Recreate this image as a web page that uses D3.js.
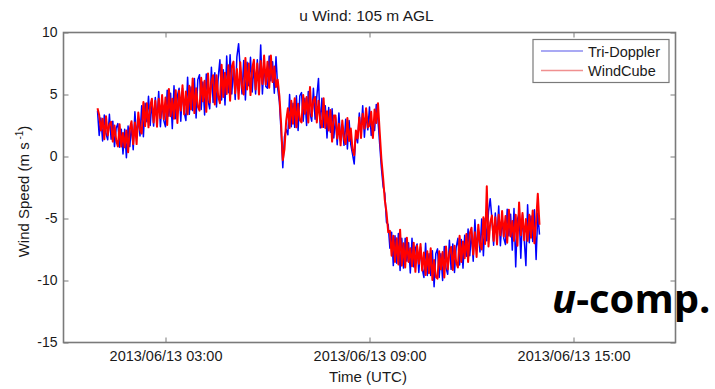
<!DOCTYPE html>
<html>
<head>
<meta charset="utf-8">
<script src="https://cdn.jsdelivr.net/npm/d3@7"></script>
<style>
  html, body { margin: 0; padding: 0; background: #ffffff; }
  svg { display: block; }
  text { font-family: "Liberation Sans", Arial, Helvetica, sans-serif; fill: #1a1a1a; }
</style>
</head>
<body>
<svg id="chart" width="715" height="389"></svg>
<script>
// ---------------- data ----------------
const titleText = "u Wind: 105 m AGL";
const seriesNames = ["Tri-Doppler", "WindCube"];
const seriesColors = ["#0000ff", "#ff0000"];
const legendColors = ["#8c8cf0", "#f09090"];
const xDomainISO = ["2013-06-13T00:00:00Z", "2013-06-13T18:00:00Z"];
const xTickISO = ["2013-06-13T03:00:00Z", "2013-06-13T09:00:00Z", "2013-06-13T15:00:00Z"];
const yTicks = [10, 5, 0, -5, -10, -15];
const sampleStartISO = "2013-06-13T01:00:00Z";
const sampleStepMinutes = 3;

// Tri-Doppler u (m/s), one row per hour from 01:00 UTC (3-min samples)
const triDoppler = [
  3.7, 1.7, 3.1, 1.25, 3.35, 1.85, 1.35, 3.4, 1.4, 2.85, 0.8, 2.3, 2.65, 0.75, 2.2, 0.2, 2.2, -0.1, 2.45, 0.8,
  2.6, 0.55, 3.6, 1.55, 3.1, 1.65, 4.1, 1.6, 4.3, 2.8, 4.85, 2.5, 4.35, 2.45, 4.75, 2.8, 5.25, 2.4, 4.4, 2.9,
  2.4, 5.35, 3.25, 5.1, 2.25, 5.7, 3.05, 4.9, 5.5, 2.85, 5.5, 3.55, 2.9, 6.4, 3.4, 5.6, 3.7, 6.3, 3.1, 6.2,
  6.6, 3.8, 6.0, 3.35, 6.65, 4.55, 3.85, 7.2, 4.35, 6.75, 4.0, 6.35, 7.8, 4.55, 7.0, 4.15, 8.1, 5.15, 8.2, 5.05,
  7.3, 4.6, 8.05, 9.1, 7.0, 5.05, 7.75, 4.55, 7.6, 5.7, 8.0, 5.2, 7.4, 5.05, 7.8, 5.5, 9.0, 5.05, 7.4, 5.65,
  5.5, 8.1, 6.1, 7.65, 5.1, 8.05, 5.5, 4.4, 2.0, -0.9, 1.6, 2.2, 1.75, 5.0, 2.4, 4.3, 2.35, 4.9, 2.1, 4.9,
  5.15, 2.85, 4.7, 2.5, 5.25, 3.5, 2.85, 5.5, 3.0, 4.85, 6.3, 2.3, 4.7, 2.35, 4.1, 1.5, 3.95, 1.95, 3.85, 1.5,
  3.15, 0.95, 3.5, 1.3, 2.55, 0.9, 3.0, 0.6, 2.9, 0.95, 0.2, -0.6, 1.9, 1.1, 3.5, 1.75, 4.1, 1.55, 3.45, 2.15,
  4.0, 1.7, 2.6, 2.1, 4.2, 2.9, 1.0, -0.9, -2.4, -3.0, -5.3, -5.5, -7.4, -6.1, -8.8, -6.4, -8.6, -6.2, -9.2, -6.6,
  -9.0, -6.6, -8.45, -6.95, -9.4, -6.6, -8.9, -7.4, -7.05, -9.35, -7.3, -9.05, -9.75, -7.0, -9.6, -7.85, -9.6, -7.6, -10.5, -7.85,
  -7.45, -9.75, -7.85, -10.0, -7.25, -9.0, -9.5, -6.75, -9.1, -7.05, -9.35, -7.3, -6.6, -8.75, -6.7, -9.0, -6.35, -8.05, -5.85, -8.0,
  -6.0, -8.45, -5.1, -7.55, -5.9, -7.7, -5.05, -8.0, -5.0, -6.8, -4.45, -3.4, -5.0, -7.15, -4.55, -6.7, -4.0, -7.2, -4.95, -6.6,
  -7.1, -4.25, -6.4, -4.65, -7.55, -4.2, -8.9, -5.1, -4.55, -8.2, -4.7, -6.65, -8.8, -3.9, -6.95, -4.8, -6.85, -4.3, -8.3, -4.55,
  -6.3
];

// WindCube u (m/s), one row per hour from 01:00 UTC (3-min samples)
const windCube = [
  3.9, 3.35, 2.1, 3.05, 1.4, 3.25, 1.7, 2.6, 2.8, 1.2, 2.5, 1.3, 0.8, 2.6, 0.8, 1.9, 0.75, 2.1, 0.35, 2.2,
  2.85, 1.0, 2.75, 1.0, 3.55, 2.2, 1.85, 4.4, 2.45, 4.3, 2.35, 4.05, 4.65, 2.75, 4.5, 2.4, 4.65, 3.1, 4.95, 3.0,
  4.75, 2.55, 5.45, 3.25, 4.65, 3.05, 5.35, 2.7, 5.3, 3.7, 5.75, 3.4, 5.25, 3.4, 5.7, 3.8, 6.3, 3.5, 5.5, 4.05,
  3.7, 6.35, 4.45, 6.1, 3.6, 6.7, 4.35, 6.05, 6.55, 4.2, 6.55, 4.85, 4.3, 7.4, 4.8, 6.75, 5.05, 7.35, 4.5, 7.25,
  7.65, 5.1, 7.05, 4.65, 7.6, 5.65, 5.0, 7.95, 5.4, 7.5, 4.95, 7.1, 7.8, 5.4, 7.5, 5.0, 7.7, 5.85, 8.15, 5.8,
  7.65, 5.55, 8.15, 6.0, 7.25, 5.6, 6.2, 4.9, 2.7, -0.3, 0.6, 2.9, 3.9, 2.3, 4.5, 2.65, 4.7, 2.35, 4.25, 2.95,
  2.75, 4.95, 3.45, 4.8, 2.75, 5.6, 3.25, 4.5, 4.8, 2.75, 4.5, 2.95, 2.35, 4.7, 2.3, 3.65, 2.1, 3.75, 1.2, 3.3,
  3.3, 1.45, 2.65, 0.9, 2.9, 1.45, 1.0, 3.1, 1.25, 2.25, 0.6, 0.1, 2.1, 1.45, 3.15, 1.5, 3.45, 2.25, 3.9, 2.35,
  2.5, 3.6, 1.5, 3.8, 2.7, 4.3, 2.0, -0.2, -1.7, -3.5, -4.5, -6.1, -6.0, -8.0, -6.4, -8.5, -6.6, -8.7, -5.9, -8.8,
  -7.0, -8.95, -6.55, -8.5, -7.4, -8.85, -6.95, -9.3, -7.2, -8.65, -7.05, -9.2, -7.75, -9.55, -7.65, -9.4, -7.4, -9.95, -8.35, -9.7,
  -9.85, -7.65, -9.1, -7.7, -9.75, -7.25, -9.1, -7.75, -7.3, -9.15, -7.2, -8.55, -8.95, -6.4, -8.5, -6.85, -8.2, -6.25, -8.5, -6.2,
  -5.75, -7.9, -6.1, -8.1, -5.5, -7.05, -7.5, -4.9, -7.05, -2.4, -7.25, -5.35, -4.75, -6.8, -4.9, -7.1, -4.7, -6.35, -4.4, -6.45,
  -4.8, -6.95, -4.3, -6.45, -5.2, -6.8, -4.7, -7.2, -3.7, -6.35, -4.55, -6.75, -5.05, -6.8, -4.7, -6.55, -4.35, -7.0, -5.25, -3.0,
  -5.5
];

// ---------------- drawing ----------------
const svg = d3.select("#chart");
const plot = { left: 63.5, right: 675.5, top: 32.5, bottom: 342.5 };

const x = d3.scaleUtc()
  .domain(xDomainISO.map(s => new Date(s)))
  .range([plot.left, plot.right]);
const y = d3.scaleLinear()
  .domain([-15, 10])
  .range([plot.bottom, plot.top]);

const t0 = new Date(sampleStartISO).getTime();
const timeAt = i => new Date(t0 + i * sampleStepMinutes * 60000);

// series lines
const line = d3.line()
  .x((d, i) => x(timeAt(i)))
  .y(d => y(d));

const strokeWidths = [1.5, 2.0];
[triDoppler, windCube].forEach((vals, si) => {
  svg.append("path")
    .datum(vals)
    .attr("fill", "none")
    .attr("stroke", seriesColors[si])
    .attr("stroke-width", strokeWidths[si])
    .attr("stroke-linejoin", "round")
    .attr("d", line);
});

// axes (MATLAB-like box with inward ticks)
const axisColor = "#7a7a7a";
const xTicks = xTickISO.map(s => new Date(s));
const fmt = d3.utcFormat("%Y/%m/%d %H:%M");

function styleAxis(g) {
  g.select(".domain").remove();
  g.selectAll(".tick line").attr("stroke", axisColor).attr("stroke-width", 1);
  g.selectAll(".tick text").attr("fill", "#1a1a1a");
}

svg.append("g")
  .attr("transform", `translate(0,${plot.bottom})`)
  .call(d3.axisBottom(x).tickValues(xTicks).tickFormat(fmt).tickSize(-5).tickPadding(8))
  .call(styleAxis)
  .selectAll("text")
  .style("font-family", "Liberation Sans, Arial, sans-serif")
  .style("font-size", "14.5px");

svg.append("g")
  .attr("transform", `translate(0,${plot.top})`)
  .call(d3.axisTop(x).tickValues(xTicks).tickFormat("").tickSize(-5))
  .call(styleAxis);

svg.append("g")
  .attr("transform", `translate(${plot.left},0)`)
  .call(d3.axisLeft(y).tickValues(yTicks).tickFormat(d => String(d)).tickSize(-5).tickPadding(6))
  .call(styleAxis)
  .selectAll("text")
  .style("font-family", "Liberation Sans, Arial, sans-serif")
  .style("font-size", "14px");

svg.append("g")
  .attr("transform", `translate(${plot.right},0)`)
  .call(d3.axisRight(y).tickValues(yTicks).tickFormat("").tickSize(-5))
  .call(styleAxis);

svg.append("rect")
  .attr("x", plot.left).attr("y", plot.top)
  .attr("width", plot.right - plot.left).attr("height", plot.bottom - plot.top)
  .attr("fill", "none").attr("stroke", axisColor).attr("stroke-width", 1.6);

// title
svg.append("text")
  .attr("x", (plot.left + plot.right) / 2 - 3).attr("y", 20.5)
  .attr("text-anchor", "middle")
  .style("font-size", "15.5px")
  .text(titleText);

// x label
svg.append("text")
  .attr("x", 368).attr("y", 382)
  .attr("text-anchor", "middle")
  .style("font-size", "15px")
  .text("Time (UTC)");

// y label
const yl = svg.append("text")
  .attr("transform", `translate(29,${(plot.top + plot.bottom) / 2 + 4}) rotate(-90)`)
  .attr("text-anchor", "middle")
  .style("font-size", "15px");
yl.append("tspan").text("Wind Speed (m s");
yl.append("tspan").attr("dy", -6).style("font-size", "10px").text(" -1");
yl.append("tspan").attr("dy", 6).text(")");

// legend
const lg = svg.append("g");
lg.append("rect")
  .attr("x", 533).attr("y", 39.5).attr("width", 136).attr("height", 43)
  .attr("fill", "#ffffff").attr("stroke", axisColor).attr("stroke-width", 1.2);
seriesNames.forEach((name, i) => {
  const ly = 51 + i * 19.5;
  lg.append("line")
    .attr("x1", 541).attr("x2", 583).attr("y1", ly).attr("y2", ly)
    .attr("stroke", legendColors[i]).attr("stroke-width", 1.6);
  lg.append("text")
    .attr("x", 588).attr("y", ly + 5.5)
    .style("font-size", "14.5px")
    .text(name);
});

// annotation
const ann = svg.append("text")
  .attr("x", 552).attr("y", 313)
  .style("font-family", "'Open Sans', sans-serif")
  .style("font-weight", "bold")
  .style("font-size", "40px")
  .style("fill", "#000");
ann.append("tspan").style("font-style", "italic").text("u");
ann.append("tspan").text("-comp.");
</script>
</body>
</html>
